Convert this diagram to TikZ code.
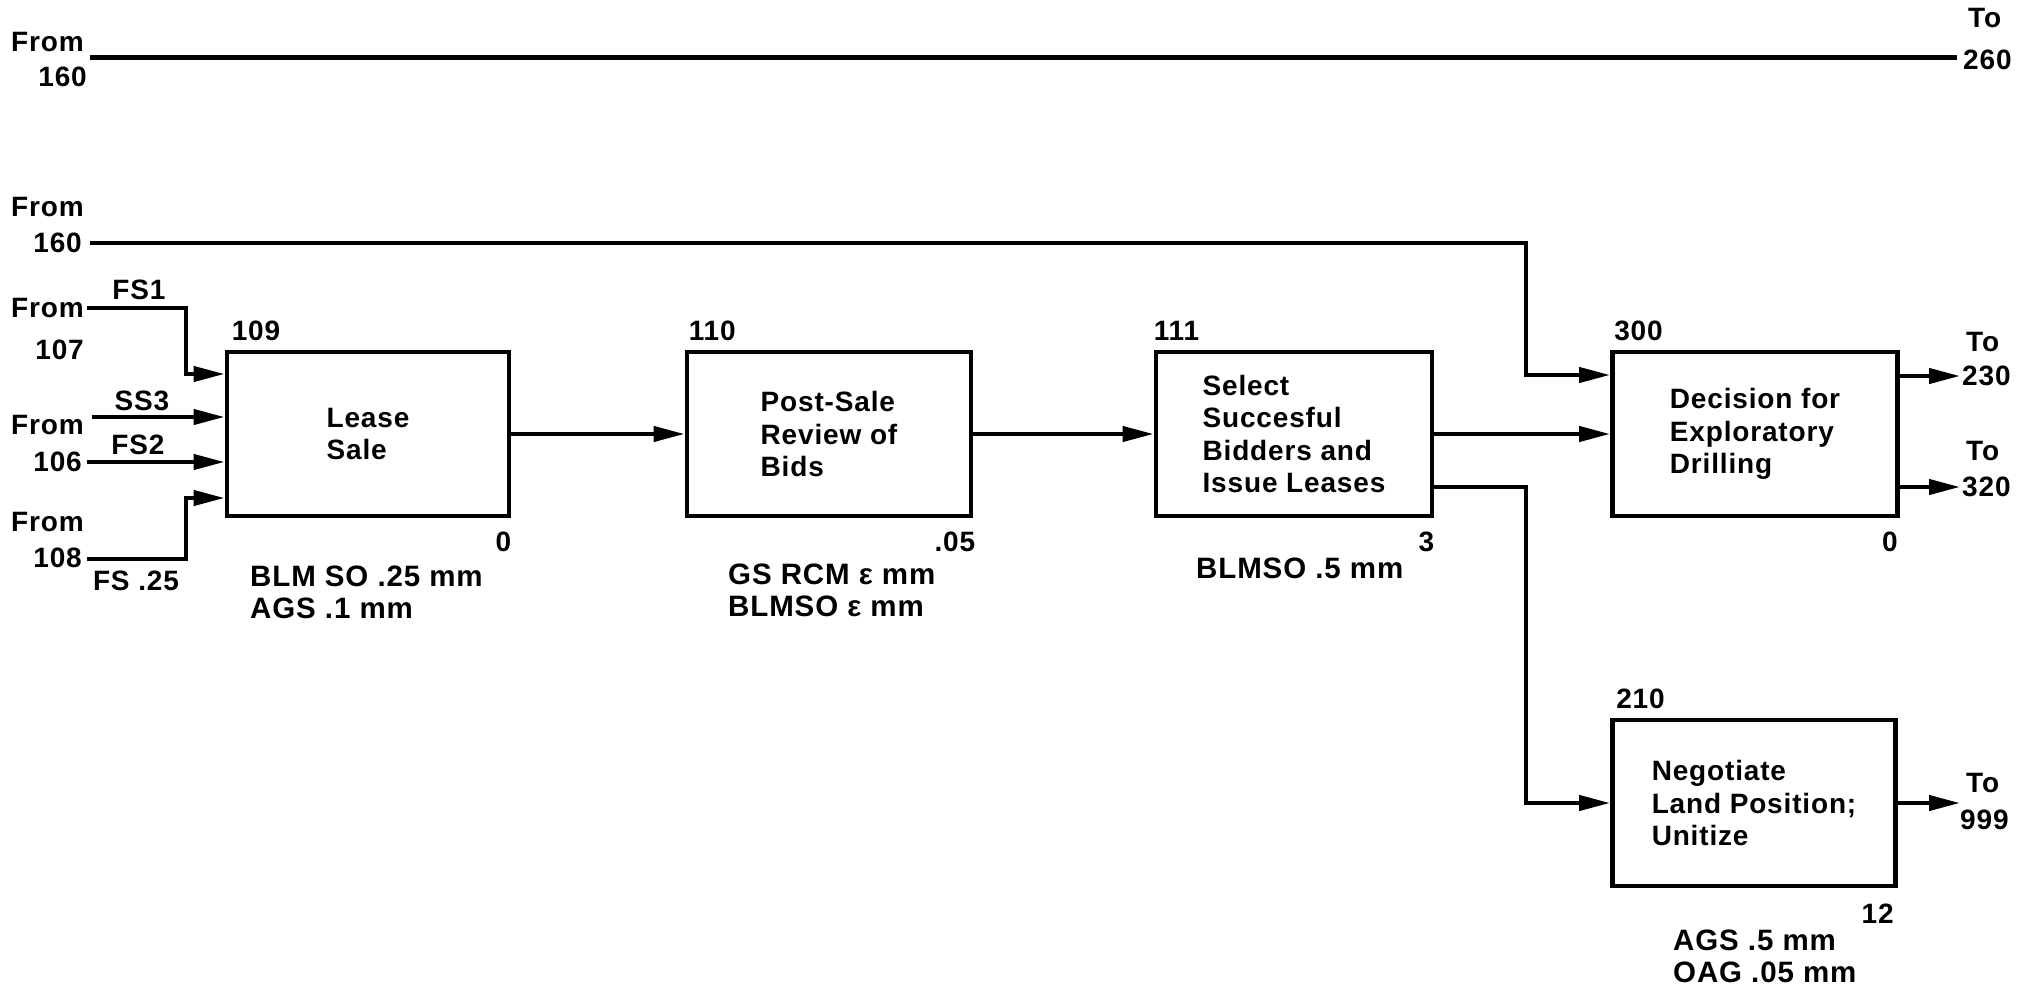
\documentclass[tikz,border=0pt]{standalone}
\usepackage{fontspec}
\setmainfont{Liberation Sans}[LetterSpace=3]
\usetikzlibrary{arrows.meta,calc}
\begin{document}
\begin{tikzpicture}[x=1pt,y=-1pt,
  every node/.style={font=\fontsize{28}{32.5}\selectfont\bfseries, inner sep=0pt},
  wire/.style={line width=4.2pt},
  arr/.style={wire, -{Triangle[length=31pt,width=15pt]}},
  box/.style={draw, line width=4.8pt, minimum height=164pt, align=left},
  idl/.style={anchor=base west},
  val/.style={anchor=base east},
  desc/.style={anchor=west, align=left, font=\fontsize{29.5}{32}\selectfont\bfseries}
  ]
\useasboundingbox (0,0) rectangle (2021,988);

% boxes
\node[box, minimum width=282pt] (b109) at (368,434) {Lease\\Sale};
\node[box, minimum width=284pt] (b110) at (829,434) {Post-Sale\\Review of\\Bids};
\node[box, minimum width=276pt] (b111) at (1294,434) {Select\\Succesful\\Bidders and\\Issue Leases};
\node[box, minimum width=285pt] (b300) at (1755,434) {Decision for\\Exploratory\\Drilling};
\node[box, minimum width=283pt, minimum height=166pt] (b210) at (1754,803) {Negotiate\\Land Position;\\Unitize};

% ids
\node[idl] (i109) at ($(b109.north west)+(7,-9)$) {109};
\node[idl] (i110) at ($(b110.north west)+(4,-9)$) {110};
\node[idl] (i111) at ($(b111.north west)+(0,-9)$) {111};
\node[idl] (i300) at ($(b300.north west)+(4,-9)$) {300};
\node[idl] (i210) at ($(b210.north west)+(6,-9)$) {210};

% values
\node[val] (v109) at ($(b109.south east)+(0,33)$) {0};
\node[val] (v110) at ($(b110.south east)+(2,33)$) {.05};
\node[val] (v111) at ($(b111.south east)+(0,33)$) {3};
\node[val] (v300) at ($(b300.south east)+(-2,33)$) {0};
\node[val] (v210) at ($(b210.south east)+(-4,35)$) {12};

% descriptions
\node[desc] (d109) at (250,592) {BLM SO .25 mm\\AGS .1 mm};
\node[desc] (d110) at (728,590) {GS RCM ε mm\\BLMSO ε mm};
\node[desc] (d111) at (1196,568) {BLMSO .5 mm};
\node[desc] (d210) at (1673,956) {AGS .5 mm\\OAG .05 mm};

% left labels
\node[anchor=west] (f160a) at (11,42) {From};
\node[anchor=east] (n160a) at (87,77) {160};
\node[anchor=west] (f160b) at (11,207) {From};
\node[anchor=east] (n160b) at (82,243) {160};
\node[anchor=west] (f107) at (11,308) {From};
\node[anchor=east] (n107) at (84,350) {107};
\node[anchor=west] (f106) at (11,425) {From};
\node[anchor=east] (n106) at (82,462) {106};
\node[anchor=west] (f108) at (11,522) {From};
\node[anchor=east] (n108) at (82,558) {108};
\node (lfs1) at (139,290) {FS1};
\node (lss3) at (142,401) {SS3};
\node (lfs2) at (138,445) {FS2};
\node (lfs25) at (136,581) {FS .25};

% right labels
\node[anchor=west] (t260) at (1968,18) {To};
\node[anchor=west] (n260) at (1963,60) {260};
\node[anchor=west] (t230) at (1966,342) {To};
\node[anchor=west] (n230) at (1962,376) {230};
\node[anchor=west] (t320) at (1966,451) {To};
\node[anchor=west] (n320) at (1962,487) {320};
\node[anchor=west] (t999) at (1966,783) {To};
\node[anchor=west] (n999) at (1960,820) {999};

% coordinates
\coordinate (c160a) at (90,57);
\coordinate (c260) at (1957,57);
\coordinate (c160b) at (90,243);
\coordinate (j300) at (1526,375);
\coordinate (c107) at (87,308);
\coordinate (j107) at (186,374);
\coordinate (css3) at (92,417);
\coordinate (c106) at (87,462);
\coordinate (c108) at (87,559);
\coordinate (j108) at (186,498);
\coordinate (o111) at (1432,487);
\coordinate (j210) at (1526,803);
\coordinate (e230) at (1960,376);
\coordinate (e320) at (1960,487);
\coordinate (e999) at (1960,803);

% connectors
\draw[wire, line width=5pt] (c160a) -- (c260);
\draw[arr] (c160b) -| (j300) -- (j300 -| b300.west);
\draw[arr] (c107) -| (j107) -- (j107 -| b109.west);
\draw[arr] (css3) -- (css3 -| b109.west);
\draw[arr] (c106) -- (c106 -| b109.west);
\draw[arr] (c108) -| (j108) -- (j108 -| b109.west);
\draw[arr] (b109) -- (b110);
\draw[arr] (b110) -- (b111);
\draw[arr] (b111) -- (b300);
\draw[arr] (o111) -| (j210) -- (j210 -| b210.west);
\draw[arr] (b300.east |- e230) -- (e230);
\draw[arr] (b300.east |- e320) -- (e320);
\draw[arr] (b210.east |- e999) -- (e999);
\end{tikzpicture}
\end{document}
